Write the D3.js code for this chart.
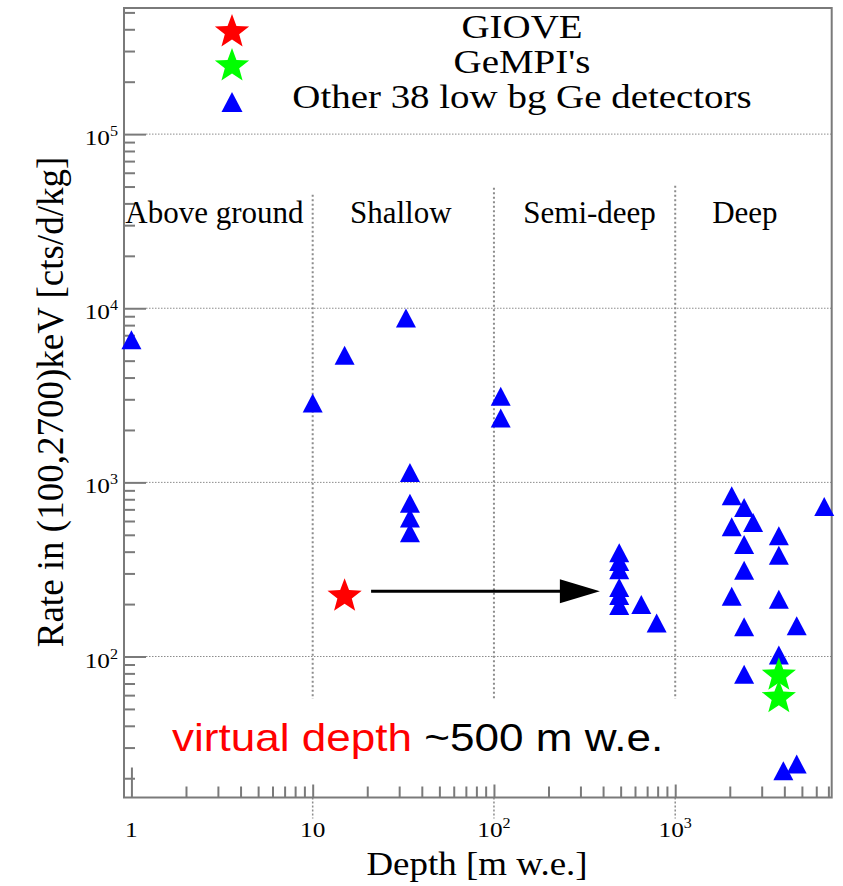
<!DOCTYPE html>
<html>
<head>
<meta charset="utf-8">
<script src="https://cdn.jsdelivr.net/npm/d3@7"></script>
<style>
  html, body { margin: 0; padding: 0; background: #fff; }
  svg { display: block; }
</style>
</head>
<body>
<script>
// ---------------- data ----------------
// Other 38 low background Ge detectors (depth in m w.e., rate in cts/d/kg)
const otherDepth = [1, 10, 15, 32.7, 34.4, 34.4, 34.4, 34.4, 109, 109,
  491, 491, 491, 491, 491, 491, 650, 790,
  2050, 2400, 2690, 2050, 2400, 2400, 2050, 2400, 2400,
  3730, 3730, 3730, 4680, 3730, 6640, 3950, 4680];
const otherRate = [6600, 2860, 5370, 8790, 1140, 760, 625, 513, 3120, 2340,
  395, 351, 315, 249, 224, 196, 199, 156,
  838, 717, 588, 557, 440, 313, 222, 148, 79,
  493, 382, 213, 150, 102, 726, 22.1, 24.1];
// GIOVE
const gioveDepth = [15];
const gioveRate = [222];
// GeMPI's
const gempiDepth = [3730, 3730];
const gempiRate = [78, 58];
// arrow (GIOVE -> virtual depth)
const arrowFromDepth = 21, arrowToDepth = 384, arrowRate = 237;
// depth region separators
const sepDepth = [10, 100, 1000];
const sepTop = [44900, 49200, 50600];
const sepBottom = 57;
// region labels
const regionNames = ["Above ground", "Shallow", "Semi-deep", "Deep"];
const regionDepth = [2.87, 30.6, 337, 2423];
const regionRate = 30800;
// legend
const legendLabels = ["GIOVE", "GeMPI's", "Other 38 low bg Ge detectors"];
const legendColors = ["#ff0000", "#00ff00", "#0000ff"];
// ticks
const xMajor = [1, 10, 100, 1000];
const xMajorLabels = [["1", ""], ["10", ""], ["10", "2"], ["10", "3"]];
const yMajor = [100, 1000, 10000, 100000];
const yMajorLabels = [["10", "2"], ["10", "3"], ["10", "4"], ["10", "5"]];
const xDomain = [0.91, 7300];
const yDomain = [15.5, 5.3e5];

// ---------------- setup ----------------
const W = 843, H = 886;
const L = 124, R = 831.7, T = 8, B = 797.5;
const svg = d3.select("body").append("svg").attr("width", W).attr("height", H);
const x = d3.scaleLog().domain(xDomain).range([L, R]);
const y = d3.scaleLog().domain(yDomain).range([B, T]);
const axisCol = "#7a7a7a";
const serif = "'Liberation Serif', 'Times New Roman', serif";
const sans = "'Liberation Sans', Arial, sans-serif";

// minor tick values
const xMinor = [], yMinor = [];
[1, 10, 100, 1000].forEach(d => { for (let k = 2; k <= 9; k++) { const v = d * k; if (v < xDomain[1]) xMinor.push(v); } });
[10, 100, 1000, 10000, 100000].forEach(d => { for (let k = 2; k <= 9; k++) { const v = d * k; if (v > yDomain[0] && v < yDomain[1]) yMinor.push(v); } });

// ---------------- grid ----------------
svg.append("g").selectAll("line").data(yMajor).join("line")
  .attr("x1", L + 22).attr("x2", R)
  .attr("y1", d => y(d)).attr("y2", d => y(d))
  .attr("stroke", "#8c8c8c").attr("stroke-width", 1).attr("stroke-dasharray", "1.5,1.5");

svg.append("g").selectAll("line").data(sepDepth).join("line")
  .attr("x1", d => x(d)).attr("x2", d => x(d))
  .attr("y1", (d, i) => y(sepTop[i])).attr("y2", y(sepBottom))
  .attr("stroke", "#8c8c8c").attr("stroke-width", 2).attr("stroke-dasharray", "2,2.5");

// ---------------- axes (ticks) ----------------
function styleAxis(g) {
  g.select(".domain").remove();
  g.selectAll(".tick line").attr("stroke", axisCol).attr("stroke-width", 2);
  g.selectAll(".tick text").remove();
}
svg.append("g").attr("transform", `translate(${L},0)`)
  .call(d3.axisLeft(y).tickValues(yMinor).tickSize(-11).tickFormat("")).call(styleAxis);
svg.append("g").attr("transform", `translate(${L},0)`)
  .call(d3.axisLeft(y).tickValues(yMajor).tickSize(-22).tickFormat("")).call(styleAxis);
svg.append("g").attr("transform", `translate(0,${B})`)
  .call(d3.axisBottom(x).tickValues(xMinor).tickSize(-11).tickFormat("")).call(styleAxis);
svg.append("g").attr("transform", `translate(0,${B})`)
  .call(d3.axisBottom(x).tickValues([1]).tickSize(-30).tickFormat("")).call(styleAxis);
svg.append("g").attr("transform", `translate(0,${B})`)
  .call(d3.axisBottom(x).tickValues([10, 100, 1000]).tickSize(-13).tickFormat("")).call(styleAxis);
// dotted extensions below the axis at decades
svg.append("g").selectAll("line").data([10, 100, 1000]).join("line")
  .attr("x1", d => x(d)).attr("x2", d => x(d)).attr("y1", B).attr("y2", B + 21)
  .attr("stroke", "#8c8c8c").attr("stroke-width", 1.5).attr("stroke-dasharray", "2,2");

// frame
svg.append("rect").attr("x", L).attr("y", T).attr("width", R - L).attr("height", B - T)
  .attr("fill", "none").attr("stroke", axisCol).attr("stroke-width", 2);

// ---------------- tick labels ----------------
function supLabel(parent, px, py, parts, anchor, sx) {
  const t = parent.append("text")
    .attr("transform", `translate(${px},${py}) scale(${sx},1)`)
    .attr("text-anchor", anchor).attr("font-family", serif).attr("font-size", 22).attr("fill", "#000");
  t.append("tspan").text(parts[0]);
  if (parts[1]) t.append("tspan").attr("dy", -9).attr("font-size", 14).text(parts[1]);
  return t;
}
const labG = svg.append("g");
yMajor.forEach((v, i) => supLabel(labG, 118, y(v) + 11, yMajorLabels[i], "end", 1.15));
xMajor.forEach((v, i) => supLabel(labG, x(v), 837, xMajorLabels[i], "middle", 1.15));

// axis titles
svg.append("text").attr("transform", `translate(477,875) scale(1.12,1)`)
  .attr("text-anchor", "middle").attr("font-family", serif).attr("font-size", 33)
  .text("Depth [m w.e.]");
svg.append("text").attr("transform", `translate(63,402) rotate(-90)`)
  .attr("text-anchor", "middle").attr("font-family", serif).attr("font-size", 37)
  .text("Rate in (100,2700)keV [cts/d/kg]");

// region labels
svg.append("g").selectAll("text").data(regionNames).join("text")
  .attr("x", (d, i) => x(regionDepth[i])).attr("y", y(regionRate))
  .attr("text-anchor", "middle").attr("font-family", serif).attr("font-size", 31)
  .text(d => d);

// ---------------- symbols ----------------
const starType = { draw(ctx, size) {
  const Ro = Math.sqrt(size), Ri = Ro * 0.42;
  for (let i = 0; i < 10; i++) {
    const a = -Math.PI / 2 + i * Math.PI / 5, r = i % 2 ? Ri : Ro;
    const px = r * Math.cos(a), py = r * Math.sin(a);
    if (i === 0) ctx.moveTo(px, py); else ctx.lineTo(px, py);
  }
  ctx.closePath();
}};
const triType = { draw(ctx, size) {
  const w = Math.sqrt(size), h = w * 0.95;
  ctx.moveTo(0, -h / 2); ctx.lineTo(w / 2, h / 2); ctx.lineTo(-w / 2, h / 2); ctx.closePath();
}};
const triPath = d3.symbol().type(triType).size(400)();
const starPath = d3.symbol().type(starType).size(324)();

svg.append("g").selectAll("path").data(otherDepth).join("path")
  .attr("d", triPath)
  .attr("transform", (d, i) => `translate(${x(d)},${y(otherRate[i])})`)
  .attr("fill", "#0000ff");

svg.append("g").selectAll("path").data(gempiDepth).join("path")
  .attr("d", starPath)
  .attr("transform", (d, i) => `translate(${x(d)},${y(gempiRate[i])})`)
  .attr("fill", "#00ff00");

svg.append("g").selectAll("path").data(gioveDepth).join("path")
  .attr("d", starPath)
  .attr("transform", (d, i) => `translate(${x(d)},${y(gioveRate[i])})`)
  .attr("fill", "#ff0000");

// arrow
const ax1 = x(arrowFromDepth), ax2 = x(arrowToDepth), ay = y(arrowRate);
svg.append("line").attr("x1", ax1).attr("x2", ax2 - 30).attr("y1", ay).attr("y2", ay)
  .attr("stroke", "#000").attr("stroke-width", 3);
svg.append("path")
  .attr("d", d3.line()([[ax2, ay], [ax2 - 40, ay - 12], [ax2 - 40, ay + 12]]) + "Z")
  .attr("fill", "#000");

// virtual depth annotation
const vt = svg.append("text").attr("transform", `translate(172,751) scale(1.13,1)`)
  .attr("font-family", sans).attr("font-size", 39);
vt.append("tspan").attr("fill", "#ff0000").text("virtual depth");
vt.append("tspan").attr("fill", "#000").text(" ~500 m w.e.");

// ---------------- legend ----------------
const legSymY = [32, 66, 102];
const legTextY = [37.5, 73, 107.5];
const legPaths = [starPath, starPath, d3.symbol().type(triType).size(441)()];
const lg = svg.append("g");
legendLabels.forEach((lab, i) => {
  lg.append("path").attr("d", legPaths[i])
    .attr("transform", `translate(232,${legSymY[i]})`).attr("fill", legendColors[i]);
  lg.append("text").attr("transform", `translate(522,${legTextY[i]}) scale(1.18,1)`)
    .attr("text-anchor", "middle").attr("font-family", serif).attr("font-size", 33)
    .text(lab);
});
</script>
</body>
</html>
